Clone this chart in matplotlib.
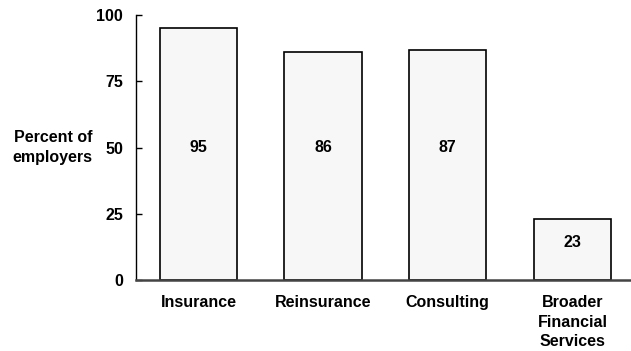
import numpy as np
import matplotlib.pyplot as plt

plt.rcParams['font.family'] = ['Liberation Sans', 'DejaVu Sans']
plt.rcParams['font.weight'] = 'bold'

categories = ["Insurance", "Reinsurance", "Consulting", "Broader\nFinancial\nServices"]
values = [95, 86, 87, 23]
label_y = [50, 50, 50, 14]
yticks = [0, 25, 50, 75, 100]

fig = plt.figure(figsize=(6.31, 3.51), dpi=100)
ax = fig.add_axes([0.215, 0.202, 0.785, 0.755])

x = np.arange(len(categories))
ax.bar(x, values, width=0.62, color="#f7f7f7", edgecolor="black", linewidth=1.2, zorder=2)

for xi, v, ly in zip(x, values, label_y):
    ax.text(xi, ly, str(v), ha="center", va="center", fontsize=11.5, fontweight="bold")

ax.set_xlim(-0.504, 3.47)
ax.set_ylim(0, 100)
ax.set_yticks(yticks)
ax.set_yticklabels([str(t) for t in yticks], fontsize=11.5, fontweight="bold")
ax.set_xticks(x)
ax.set_xticklabels(categories, fontsize=11.5, fontweight="bold", linespacing=1.35, va="top")
ax.tick_params(axis="x", length=0, pad=11)
ax.tick_params(axis="y", length=4, width=1, pad=9, direction="in")

ax.spines["top"].set_visible(False)
ax.spines["right"].set_visible(False)
ax.spines["left"].set_linewidth(1.0)
ax.spines["bottom"].set_linewidth(1.8)
ax.spines["bottom"].set_color("#444444")
ax.spines["bottom"].set_zorder(3)

ax.set_ylabel("Percent of\nemployers", rotation=0, fontsize=11.5, fontweight="bold",
              ha="right", va="center", linespacing=1.35)
ax.yaxis.set_label_coords(-0.088, 0.5)

fig.savefig("out.png", dpi=100)
